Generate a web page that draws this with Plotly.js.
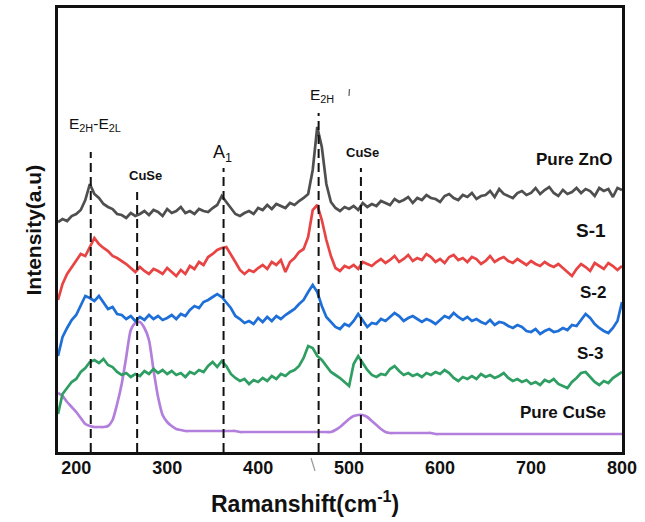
<!DOCTYPE html>
<html>
<head>
<meta charset="utf-8">
<script src="https://cdn.plot.ly/plotly-3.0.1.min.js"></script>
<style>html,body{margin:0;padding:0;background:#fff;}#chart{width:645px;height:522px;}</style>
</head>
<body>
<div id="chart"></div>
<script>
// Raman shift (cm^-1)
const ramanShift = [
180,185,190,195,200,205,210,215,220,225,
230,235,240,245,250,255,260,265,270,275,
280,285,290,295,300,305,310,315,320,325,
330,335,340,345,350,355,360,365,370,375,
380,385,390,395,400,405,410,415,420,425,
430,435,440,445,450,455,460,465,470,475,
480,485,490,495,500,505,510,515,520,525,
530,535,540,545,550,555,560,565,570,575,
580,585,590,595,600,605,610,615,620,625,
630,635,640,645,650,655,660,665,670,675,
680,685,690,695,700,705,710,715,720,725,
730,735,740,745,750,755,760,765,770,775,
780,785,790,795,800];

// Intensity (a.u., vertically offset as in the figure)
const pureZnO = [
230,233,231,236,238,242,252,268,258,254,
248,245,243,238,237,234,239,236,238,241,
237,242,240,236,243,239,241,245,239,241,
238,243,241,240,244,247,256,250,243,238,
236,239,241,238,244,242,247,243,248,246,
244,249,247,251,254,258,282,325,305,268,
250,244,241,245,243,246,242,249,245,248,
246,251,249,247,253,250,252,255,249,254,
252,257,254,253,250,256,258,254,252,257,
255,259,253,256,257,261,255,263,258,256,
254,259,261,257,259,264,258,262,265,259,
256,262,258,260,264,259,263,261,256,264,
261,263,255,264,262];

const s1 = [
152,168,178,185,192,198,196,205,214,208,
204,201,196,194,191,188,184,180,185,181,
178,183,181,178,184,180,176,182,178,186,
183,190,187,195,198,202,204,205,198,190,
182,178,182,180,184,187,183,190,187,192,
180,190,194,200,203,215,242,247,232,212,
196,184,181,186,184,187,183,190,188,186,
190,193,189,192,196,190,193,197,191,194,
192,198,195,190,193,189,195,197,192,194,
190,195,193,188,191,196,190,193,195,191,
189,193,190,187,191,188,186,190,187,185,
188,184,180,176,183,188,185,181,189,186,
183,189,186,182,186];

const s2 = [
96,115,124,132,137,146,156,154,151,156,
150,143,145,138,137,133,136,131,135,132,
137,133,136,132,134,137,133,138,136,142,
146,144,150,152,155,158,155,150,144,136,
133,129,131,128,134,130,135,131,136,133,
137,140,143,148,152,160,167,160,146,135,
130,125,123,128,126,131,138,131,125,129,
128,133,131,135,139,136,131,134,136,133,
130,133,131,128,132,136,134,139,135,132,
135,131,133,130,128,132,127,130,129,126,
124,127,125,121,120,123,118,121,123,120,
121,124,122,127,126,132,138,134,128,124,
121,119,124,131,150];

const s3 = [
38,58,64,70,73,80,84,90,92,89,
93,87,85,80,77,79,75,78,76,81,
78,83,79,82,78,81,77,79,75,80,
78,82,80,86,90,85,91,86,78,74,
71,73,68,72,70,74,71,76,73,78,
76,80,82,86,94,106,104,96,92,86,
80,77,74,70,66,88,96,89,82,77,
75,78,77,83,86,81,77,79,76,78,
75,79,77,80,78,82,79,74,71,75,
73,76,73,78,75,77,74,76,79,74,
71,73,70,72,68,70,67,72,70,73,
68,66,64,70,74,79,80,75,70,67,
71,69,74,77,80];

const pureCuSe = [
59,56,50,45,40,34,28,26,25,25,
25,26,32,48,68,95,122,129,130,124,
112,82,55,37,30,26,23,22,21,21,
21,21,21,21,21,21,21,21,21,21,
20,20,20,20,20,20,20,20,20,20,
20,20,20,20,20,20,20,20,20,20,
20,22,25,29,33,36,37,37,35,31,
27,23,20,19,19,19,19,19,19,19,
19,19,19,18,18,18,18,18,18,18,
18,18,18,18,18,18,18,18,18,18,
18,18,18,18,18,18,18,18,18,18,
18,18,18,18,18,18,18,18,18,18,
18,18,18,18,18];

// Peak marker positions (cm^-1)
const peakPositions = [216, 267, 362, 466.5, 513];
const xTicks = [200, 300, 400, 500, 600, 700, 800];

const FONT = 'Arial, "Liberation Sans", sans-serif';
const L = 58, R = 23, T = 8, B = 70;
const W = 645 - L - R, H = 522 - T - B;
const px = v => (v - L) / W;
const py = v => (522 - B - v) / H;

const mk = (y, color, name, spline) => ({
  x: ramanShift, y: y, type: 'scatter', mode: 'lines', name: name,
  line: {color: color, width: 2.7, shape: spline ? 'spline' : 'linear', smoothing: 0.6},
  hoverinfo: 'skip'
});

const traces = [
  mk(pureCuSe, '#b27fdc', 'Pure CuSe', true),
  mk(s3, '#2f9e62', 'S-3'),
  mk(s2, '#1f6fd8', 'S-2'),
  mk(s1, '#e84444', 'S-1'),
  mk(pureZnO, '#4f4f4f', 'Pure ZnO')
];

// dashed marker tops (pixel y)
const dashTopsPx = [152, 192, 168, 113, 168];
const shapes = peakPositions.map((p, i) => ({
  type: 'line', xref: 'x', yref: 'paper', x0: p, x1: p, y0: 0, y1: py(dashTopsPx[i]),
  line: {color: '#111', width: 2, dash: '9px,5px'}, layer: 'above'
}));
shapes.push({type: 'line', xref: 'paper', yref: 'paper', x0: px(349.5), x1: px(349), y0: py(89), y1: py(96),
  line: {color: '#666', width: 1.3}});
shapes.push({type: 'line', xref: 'paper', yref: 'paper', x0: px(311), x1: px(315), y0: py(458), y1: py(471),
  line: {color: '#999', width: 1.2}});

const ann = (text, xpx, ypx, size, opts) => Object.assign({
  text: text, xref: 'paper', yref: 'paper', x: px(xpx), y: py(ypx), showarrow: false,
  xanchor: 'center', yanchor: 'middle',
  font: {family: FONT, size: size, color: '#111'}
}, opts || {});

const annotations = [
  ann('E<sub>2H</sub>-E<sub>2L</sub>', 67, 124, 15.5, {xanchor: 'left'}),
  ann('<b>CuSe</b>', 145, 175, 13),
  ann('A<sub>1</sub>', 222.5, 153, 18),
  ann('E<sub>2H</sub>', 322, 96, 15.5),
  ann('<b>CuSe</b>', 362.5, 152, 13),
  ann('<b>Pure ZnO</b>', 574, 160, 17),
  ann('<b>S-1</b>', 591, 230, 19),
  ann('<b>S-2</b>', 593, 292.5, 17),
  ann('<b>S-3</b>', 590, 353, 17),
  ann('<b>Pure CuSe</b>', 563, 412.5, 17),
  ann('<b>Ramanshift(cm<sup>-1</sup>)</b>', 305, 502, 23),
  ann('<b>Intensity(a.u)</b>', 32.5, 230, 21, {textangle: -90})
];

const layout = {
  width: 645, height: 522,
  margin: {l: L, r: R, t: T, b: B},
  paper_bgcolor: '#fff', plot_bgcolor: '#fff',
  showlegend: false,
  xaxis: {
    range: [180, 800], tickvals: xTicks, ticks: '', showgrid: false, zeroline: false,
    showline: true, mirror: true, linecolor: '#111', linewidth: 2.5,
    tickfont: {family: FONT, size: 18, color: '#111', weight: 'bold'},
    ticklabelstandoff: -2
  },
  yaxis: {
    range: [0, 444], showticklabels: false, ticks: '', showgrid: false, zeroline: false,
    showline: true, mirror: true, linecolor: '#111', linewidth: 2.5
  },
  shapes: shapes,
  annotations: annotations
};

Plotly.newPlot('chart', traces, layout, {displayModeBar: false});
</script>
</body>
</html>
